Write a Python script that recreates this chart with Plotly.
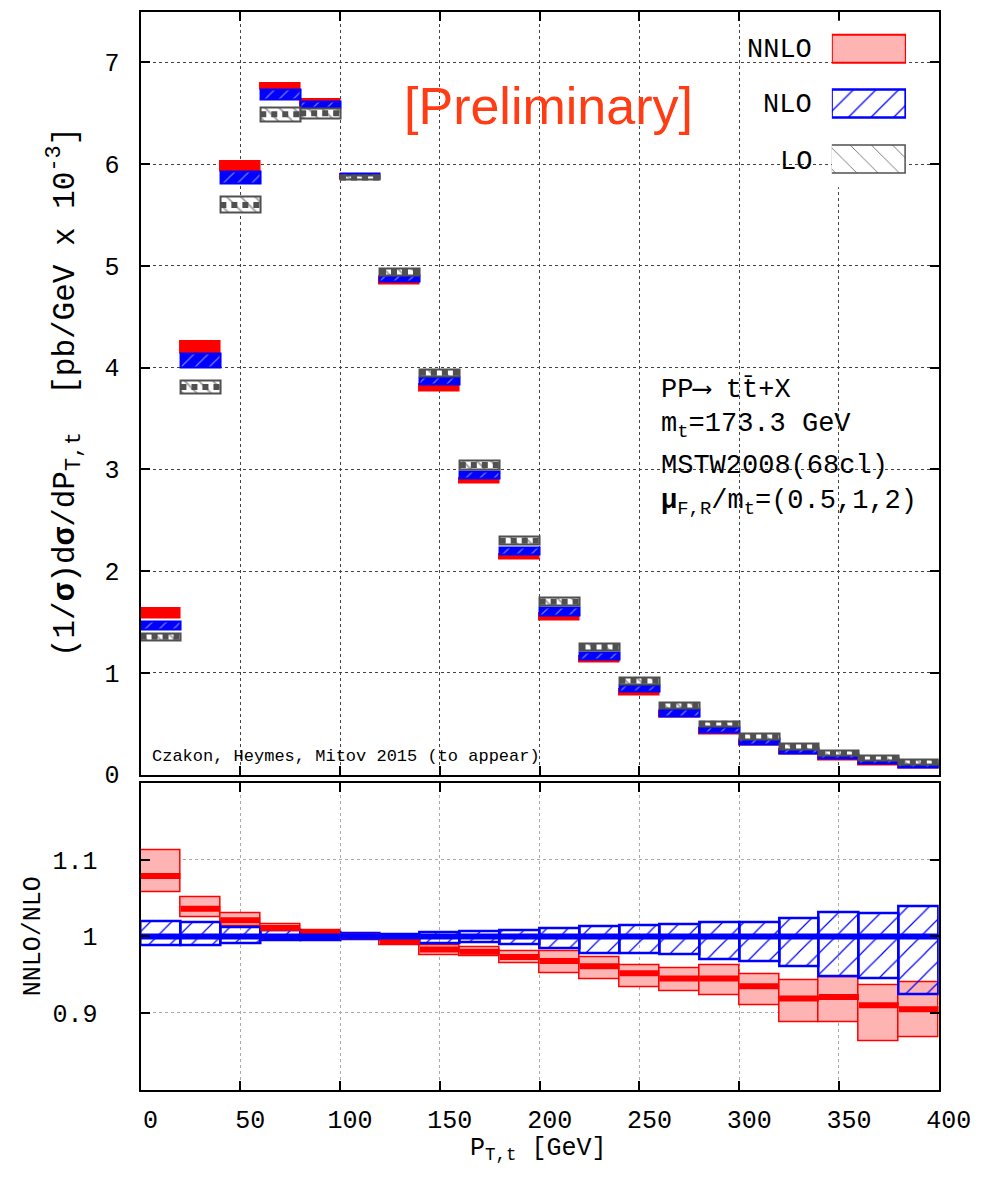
import plotly.graph_objects as go

# ---------------- data ----------------
pt_edges = [0, 20, 40, 60, 80, 100, 120, 140, 160, 180, 200,
            220, 240, 260, 280, 300, 320, 340, 360, 380, 400]

# top panel: (1/sigma) dsigma/dpT  [x 1e-3], scale-variation bands
nnlo_lo = [1.536, 4.14, 5.93, 6.73, 6.57, 5.85, 4.82, 3.77, 2.86, 2.11,
           1.52, 1.10, 0.78, 0.56, 0.40, 0.285, 0.20, 0.14, 0.09, 0.065]
nnlo_hi = [1.633, 4.26, 6.03, 6.79, 6.64, 5.90, 4.89, 3.83, 2.91, 2.16,
           1.585, 1.16, 0.84, 0.62, 0.45, 0.34, 0.25, 0.19, 0.145, 0.115]
nlo_lo = [1.423, 4.00, 5.81, 6.64, 6.56, 5.86, 4.843, 3.834, 2.914, 2.162,
          1.568, 1.133, 0.816, 0.574, 0.413, 0.300, 0.210, 0.155, 0.106, 0.075]
nlo_hi = [1.503, 4.14, 5.93, 6.73, 6.62, 5.91, 4.908, 3.904, 2.979, 2.229,
          1.639, 1.203, 0.881, 0.645, 0.462, 0.355, 0.261, 0.203, 0.161, 0.129]
lo_lo = [1.323, 3.75, 5.52, 6.42, 6.45, 5.85, 4.908, 3.914, 3.004, 2.258,
         1.662, 1.220, 0.891, 0.655, 0.471, 0.349, 0.252, 0.187, 0.138, 0.097]
lo_hi = [1.387, 3.875, 5.68, 6.56, 6.55, 5.89, 4.979, 3.986, 3.085, 2.343,
         1.742, 1.290, 0.955, 0.713, 0.526, 0.404, 0.310, 0.235, 0.187, 0.145]
lo_central = [1.355, 3.81, 5.60, 6.49, 6.50, 5.87, 4.94, 3.95, 3.045, 2.30,
              1.70, 1.255, 0.923, 0.684, 0.50, 0.376, 0.281, 0.211, 0.162, 0.121]

# bottom panel: ratio to NLO central
r_nnlo_lo = [1.058, 1.0245, 1.013, 1.0064, 1.002, 0.9974, 0.989, 0.976, 0.974, 0.965,
             0.952, 0.944, 0.934, 0.928, 0.923, 0.910, 0.888, 0.888, 0.863, 0.868]
r_nnlo_hi = [1.112, 1.0506, 1.030, 1.0158, 1.0077, 1.0026, 1.000, 0.989, 0.986, 0.981,
             0.980, 0.973, 0.963, 0.958, 0.963, 0.950, 0.943, 0.947, 0.936, 0.940]
r_nnlo_c = [1.079, 1.036, 1.021, 1.011, 1.005, 1.000, 0.994, 0.983, 0.980, 0.973,
            0.968, 0.961, 0.952, 0.945, 0.945, 0.935, 0.919, 0.921, 0.910, 0.905]
r_nlo_lo = [0.988, 0.989, 0.991, 0.995, 0.995, 0.996, 0.996, 0.991, 0.9927, 0.990,
            0.984, 0.9785, 0.9785, 0.977, 0.970, 0.967, 0.9605, 0.9485, 0.9456, 0.924]
r_nlo_hi = [1.020, 1.018, 1.012, 1.0077, 1.006, 1.004, 1.003, 1.0055, 1.0064, 1.0077,
            1.0107, 1.0129, 1.015, 1.0158, 1.0184, 1.0184, 1.0236, 1.031, 1.030, 1.0395]
r_nlo_c = [1.0] * 20

x_ticks = [0, 50, 100, 150, 200, 250, 300, 350, 400]
y_ticks_top = [0, 1, 2, 3, 4, 5, 6, 7]
y_ticks_ratio = [0.9, 1.0, 1.1]
y_ticklabels_ratio = ["0.9", "1", "1.1"]
legend_labels = ["NNLO", "NLO", "LO"]

# ---------------- helpers ----------------
W, H = 1008, 1187
def pxx(x):
    return x / W
def pyy(y):
    return 1 - y / H

centers = [(a + b) / 2 for a, b in zip(pt_edges[:-1], pt_edges[1:])]
widths = [b - a for a, b in zip(pt_edges[:-1], pt_edges[1:])]

def band(lo, hi, xa, ya, **kw):
    return go.Bar(x=centers, y=[h - l for l, h in zip(lo, hi)], base=lo,
                  width=widths, xaxis=xa, yaxis=ya, showlegend=False,
                  hoverinfo="skip", **kw)

def steps(vals, xa, ya, **kw):
    xs, ys = [], []
    for a, b, v in zip(pt_edges[:-1], pt_edges[1:], vals):
        xs += [a, b, None]
        ys += [v, v, None]
    return go.Scatter(x=xs, y=ys, mode="lines", xaxis=xa, yaxis=ya,
                      showlegend=False, hoverinfo="skip", **kw)

RED = "#ff0000"
PINK = "#ffb4b4"
BLUE = "#0000ff"
GRAY = "#505050"
MONO = "Liberation Mono, Courier New, monospace"

fig = go.Figure()

# ---- top panel ----
fig.add_trace(band(nnlo_lo, nnlo_hi, "x", "y",
                   marker=dict(color=RED, line=dict(color=RED, width=1.5))))
fig.add_trace(band(nlo_lo, nlo_hi, "x", "y",
                   marker=dict(color=BLUE, line=dict(color=BLUE, width=2),
                               pattern=dict(shape="/", fgcolor="white", bgcolor=BLUE,
                                            size=10, solidity=0.12, fillmode="overlay"))))
fig.add_trace(band(lo_lo, lo_hi, "x", "y",
                   marker=dict(color="white", line=dict(color=GRAY, width=2),
                               pattern=dict(shape="\\", fgcolor=GRAY, bgcolor="white",
                                            size=10, solidity=0.2, fillmode="overlay"))))
fig.add_trace(steps(lo_central, "x", "y",
                    line=dict(color=GRAY, width=6, dash="6px,5px")))

# ---- ratio panel ----
fig.add_trace(band(r_nnlo_lo, r_nnlo_hi, "x2", "y2",
                   marker=dict(color=PINK, line=dict(color=RED, width=1.5))))
fig.add_trace(band(r_nlo_lo, r_nlo_hi, "x2", "y2",
                   marker=dict(color=BLUE, line=dict(color=BLUE, width=2.5),
                               pattern=dict(shape="/", fgcolor=BLUE, size=15,
                                            solidity=0.08, fillmode="replace"))))
fig.add_trace(steps(r_nnlo_c, "x2", "y2", line=dict(color=RED, width=6)))
fig.add_trace(steps(r_nlo_c, "x2", "y2", line=dict(color=BLUE, width=6)))

# ---- legend boxes (own small axis) ----
leg_styles = [
    dict(color=PINK, line=dict(color=RED, width=2)),
    dict(color=BLUE, line=dict(color=BLUE, width=2.5),
         pattern=dict(shape="/", fgcolor=BLUE, size=16, solidity=0.08, fillmode="replace")),
    dict(color=GRAY, line=dict(color=GRAY, width=1.5),
         pattern=dict(shape="\\", fgcolor=GRAY, size=15, solidity=0.05, fillmode="replace")),
]
for i, (lab, st) in enumerate(zip(legend_labels, leg_styles)):
    fig.add_trace(go.Bar(y=[2 - i], x=[1], base=[0], width=0.506, orientation="h",
                         xaxis="x3", yaxis="y3", marker=st, showlegend=False,
                         hoverinfo="skip", name=lab))

xdom = [pxx(145.3), pxx(970.5)]
axis_common = dict(showline=True, linecolor="black", linewidth=2, mirror="allticks",
                   ticks="inside", ticklen=9, tickwidth=2, tickcolor="black",
                   zeroline=False)

fig.update_layout(
    width=W, height=H, autosize=False, margin=dict(l=0, r=0, t=0, b=0),
    paper_bgcolor="white", plot_bgcolor="white", barmode="overlay", bargap=0,
    font=dict(family=MONO, color="black"),
    xaxis=dict(domain=xdom, range=[0, 400], tickvals=x_ticks, showticklabels=False,
               anchor="y", showgrid=True, gridcolor="#444", griddash="dot", gridwidth=1,
               **axis_common),
    yaxis=dict(domain=[pyy(786), pyy(11.7)], range=[0, 7.5], tickvals=y_ticks_top,
               anchor="x", showgrid=True, gridcolor="#444", griddash="dot", gridwidth=1,
               tickfont=dict(size=25, family=MONO), ticklabelstandoff=14,
               **axis_common),
    xaxis2=dict(domain=xdom, range=[0, 400], tickvals=x_ticks, anchor="y2",
                showgrid=True, gridcolor="#aaa", griddash="dot", gridwidth=1,
                tickfont=dict(size=25, family=MONO), ticklabelstandoff=6,
                ticklabelshift=10, **axis_common),
    yaxis2=dict(domain=[pyy(1105.4), pyy(794.6)], range=[0.8, 1.2],
                tickvals=y_ticks_ratio, ticktext=y_ticklabels_ratio, anchor="x2",
                showgrid=True, gridcolor="#aaa", griddash="dot", gridwidth=1,
                tickfont=dict(size=25, family=MONO), ticklabelstandoff=36,
                **axis_common),
    xaxis3=dict(domain=[pxx(860), pxx(936.7)], range=[0, 1], visible=False,
                anchor="y3", fixedrange=True),
    yaxis3=dict(domain=[pyy(189.9), pyy(21)], range=[-0.5, 2.5], visible=False,
                anchor="x3", fixedrange=True),
)

ann = []
def text(x, y, s, size=27, xanchor="left", yanchor="middle", color="black",
         family=MONO, angle=0):
    ann.append(dict(x=pxx(x), y=pyy(y), xref="paper", yref="paper", text=s,
                    showarrow=False, xanchor=xanchor, yanchor=yanchor,
                    textangle=angle, font=dict(size=size, color=color, family=family)))

# legend labels
for lab, yc in zip(legend_labels, [50.7, 107, 164]):
    text(842, yc, lab, size=27, xanchor="right")

text(567, 108, "[Preliminary]", size=52, xanchor="center",
     color="#ff3c14", family="Liberation Sans, Arial, sans-serif")

text(681, 396, "PP\u27f6 tt\u0304+X")
text(681, 432, "m<sub>t</sub>=173.3 GeV")
text(681, 473, "MSTW2008(68cl)")
text(681, 510, "<b>\u03bc</b><sub>F,R</sub>/m<sub>t</sub>=(0.5,1,2)")

text(155, 767, "Czakon, Heymes, Mitov 2015 (to appear)", size=17)

text(67, 398, "(1/<b>\u03c3</b>)d<b>\u03c3</b>/dP<sub>T,t</sub>  [pb/GeV x 10<sup>-3</sup>]",
     size=31, xanchor="center", angle=-90)
text(35, 950, "NNLO/NLO", size=25, xanchor="center", angle=-90)
text(557, 1166, "P<sub>T,t</sub> [GeV]", size=25, xanchor="center")

fig.update_layout(annotations=ann)

fig.write_html(
    "out.html",
    config={"responsive": False, "displayModeBar": False},
    post_script="document.body.style.margin='0';document.body.style.overflow='hidden';",
)
